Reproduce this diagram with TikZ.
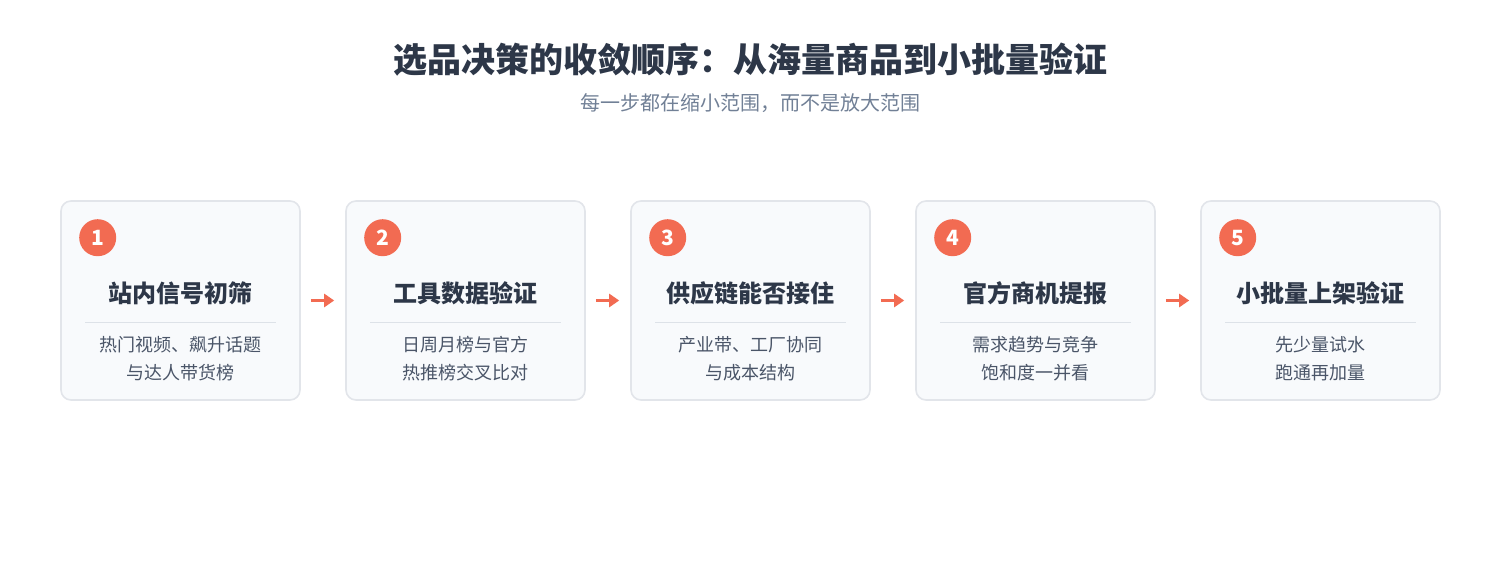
\documentclass[tikz,border=0pt]{standalone}
\usepackage{fontspec}
\setmainfont{Noto Sans CJK SC}
\usetikzlibrary{arrows.meta,calc}
\definecolor{ink}{HTML}{2D3748}
\definecolor{sub}{HTML}{718096}
\definecolor{desc}{HTML}{4A5568}
\definecolor{accent}{HTML}{F26B52}
\definecolor{boxfill}{HTML}{F8FAFC}
\definecolor{boxline}{HTML}{E2E5EA}
\definecolor{divider}{HTML}{DDE2E8}
\tikzset{
  stepbox/.style={draw=boxline, line width=1.6pt, fill=boxfill, rounded corners=10pt, minimum width=239pt, minimum height=199pt, inner sep=0pt},
  badge/.style={circle, fill=accent, minimum size=37pt, inner sep=0pt, text=white, font=\fontsize{21}{21}\selectfont\bfseries},
  steptitle/.style={text=ink, font=\fontsize{24}{28}\selectfont\bfseries, inner sep=0pt},
  stepdesc/.style={text=desc, font=\fontsize{18}{28}\selectfont, align=center, inner sep=0pt},
  divline/.style={draw=divider, line width=1.4pt},
  flow/.style={draw=accent, line width=2.6pt, -{Triangle[length=10pt,width=13pt]}, shorten <=10pt, shorten >=11pt}
}
\begin{document}
\begin{tikzpicture}[x=1pt,y=-1pt]
\useasboundingbox (0,0) rectangle (1500,580);
\node[text=ink, font=\fontsize{34}{40}\selectfont\bfseries, inner sep=0pt] (title) at (750,60) {选品决策的收敛顺序：从海量商品到小批量验证};
\node[text=sub, font=\fontsize{20}{24}\selectfont, inner sep=0pt] (subtitle) at (750,103) {每一步都在缩小范围，而不是放大范围};
\foreach \i/\t/\da/\db [count=\k from 0] in {
  1/站内信号初筛/热门视频、飙升话题/与达人带货榜,
  2/工具数据验证/日周月榜与官方/热推榜交叉比对,
  3/供应链能否接住/产业带、工厂协同/与成本结构,
  4/官方商机提报/需求趋势与竞争/饱和度一并看,
  5/小批量上架验证/先少量试水/跑通再加量}{
  \pgfmathsetmacro{\cx}{180.5+285*\k}
  \node[stepbox] (b\i) at (\cx,300.5) {};
  \node[badge] (n\i) at ($(b\i.north west)+(37.5,37.5)$) {\i};
  \node[steptitle] (t\i) at (\cx,293) {\t};
  \coordinate (dl\i) at ($(b\i.north west)+(25,122)$);
  \coordinate (dr\i) at ($(b\i.north east)+(-25,122)$);
  \draw[divline] (dl\i) -- (dr\i);
  \node[stepdesc] (d\i) at (\cx,359) {\da\\\db};
}
\foreach \a/\b in {1/2,2/3,3/4,4/5}{
  \draw[flow] (b\a.east) -- (b\b.west);
}
\end{tikzpicture}
\end{document}
